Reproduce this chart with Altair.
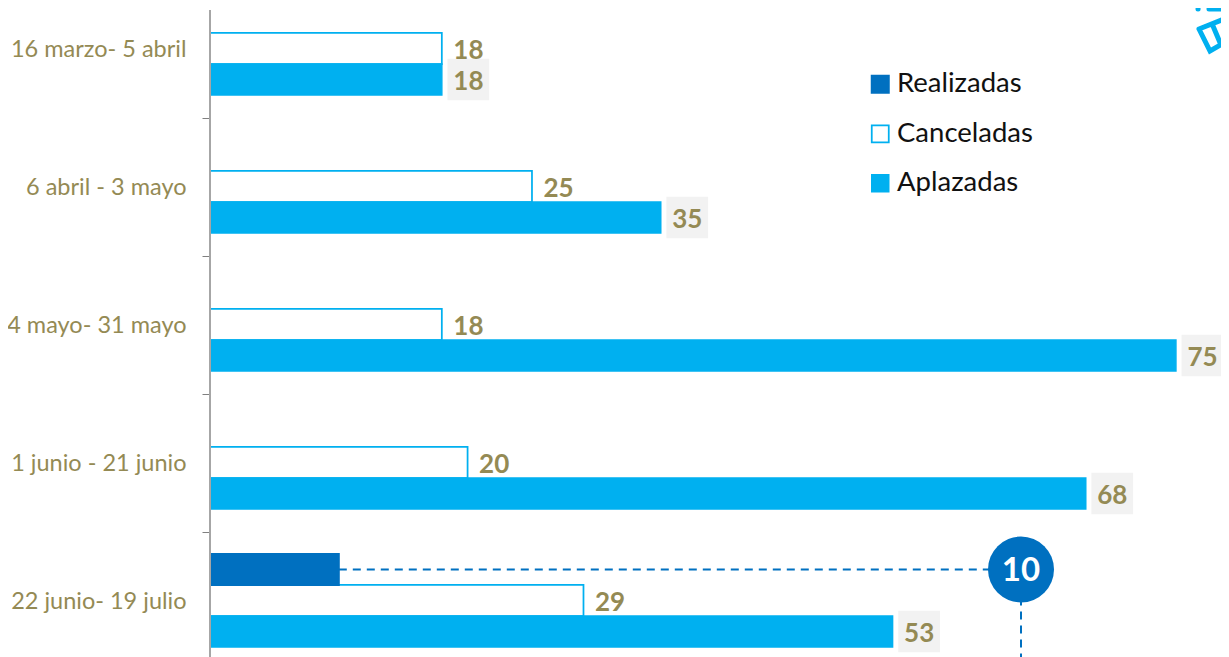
import altair as alt
import pandas as pd

periods = ["16 marzo- 5 abril", "6 abril - 3 mayo", "4 mayo- 31 mayo", "1 junio - 21 junio", "22 junio- 19 julio"]
canceladas = [18, 25, 18, 20, 29]
aplazadas = [18, 35, 75, 68, 53]
realizadas_period = "22 junio- 19 julio"
realizadas_value = 10
series = ["Realizadas", "Canceladas", "Aplazadas"]
fills = ["#0070C0", "#FFFFFF", "#00B0F0"]
strokes = ["#0070C0", "#00B0F0", "#00B0F0"]
stroke_widths = [2, 1.5, 0]

rows = [{"p": p, "s": "Canceladas", "v": v} for p, v in zip(periods, canceladas)]
rows += [{"p": p, "s": "Aplazadas", "v": v} for p, v in zip(periods, aplazadas)]
rows += [{"p": realizadas_period, "s": "Realizadas", "v": realizadas_value}]
df = pd.DataFrame(rows)
df_text = df[df.s != "Realizadas"]
df_apl = df[df.s == "Aplazadas"]
df_real = df[df.s == "Realizadas"]

FONT = "Lato"
TXT = "#948A54"
CALLOUT_X = 811
ICON = "M0,0L30,-12M0,0L11,22L30,11M14,-3L22,16M-1,-20L-0.9,-20M10,-20L30,-20"

y = alt.Y("p:N", sort=periods, title=None,
          scale=alt.Scale(domain=periods, range=[-28.5, 661.5], paddingInner=0.326, paddingOuter=0.163),
          axis=alt.Axis(domain=False, bandPosition=1, tickOffset=22.5, labelOffset=-21.5, tickSize=8,
                        tickColor="#808080", tickWidth=1,
                        labelFont=FONT, labelFontSize=23.5, labelColor=TXT, labelPadding=16, labelLimit=220,
                        labelOverlap=False, grid=False))
yo = alt.YOffset("s:N", scale=alt.Scale(domain=series, paddingInner=0, paddingOuter=0))
x = alt.X("v:Q", title=None, axis=None, stack=None, scale=alt.Scale(domain=[0, 78.5], nice=False, zero=True))

bars = alt.Chart(df).mark_bar().encode(
    x=x, y=y, yOffset=yo,
    fill=alt.Fill("s:N", scale=alt.Scale(domain=series, range=fills),
                  legend=alt.Legend(title=None, orient="none", legendX=656.5, legendY=62.5, symbolType="square",
                                    symbolSize=289, symbolStrokeWidth=1.5, symbolOpacity=1, labelFont=FONT,
                                    labelFontSize=27.5, labelColor="#111111", labelOffset=3, rowPadding=20.5)),
    stroke=alt.Stroke("s:N", scale=alt.Scale(domain=series, range=strokes), legend=None),
    strokeWidth=alt.StrokeWidth("s:N", scale=alt.Scale(domain=series, range=stroke_widths), legend=None),
)

boxes = alt.Chart(df_apl).mark_square(size=1740, color="#F2F2F2", opacity=1, xOffset=26.5).encode(
    x=x, y=y, yOffset=yo)
labels = alt.Chart(df_text).mark_text(align="left", baseline="middle", dx=11.5, dy=2.5, font=FONT, fontSize=26,
                                      fontWeight="bold", color=TXT).encode(
    x=x, y=y, yOffset=yo, text="v:Q")

h_line = alt.Chart(df_real).mark_rule(color="#0070C0", strokeWidth=2, strokeDash=[8, 6]).encode(
    x=x, x2=alt.value(CALLOUT_X), y=y, yOffset=yo)
v_line = alt.Chart(df_real).mark_rule(color="#0070C0", strokeWidth=2, strokeDash=[8, 6]).encode(
    x=alt.value(CALLOUT_X), y=y, yOffset=yo, y2=alt.value(649))
circle = alt.Chart(df_real).mark_circle(size=4356, color="#0070C0", opacity=1).encode(
    x=alt.value(CALLOUT_X), y=y, yOffset=yo)
circle_text = alt.Chart(df_real).mark_text(font=FONT, fontSize=33, fontWeight="bold", color="#FFFFFF",
                                           baseline="middle", dy=2).encode(
    x=alt.value(CALLOUT_X), y=y, yOffset=yo, text="v:Q")

axis_line = alt.Chart(df_real).mark_rule(color="#A6A6A6", strokeWidth=2).encode(
    x=alt.value(0), y=alt.value(2), y2=alt.value(649))

icon = alt.Chart(df_real).mark_point(shape=ICON, size=4, filled=False, stroke="#00B0F0", strokeWidth=5,
                                     opacity=1, strokeCap="round").encode(
    x=alt.value(989), y=alt.value(21))

chart = alt.layer(boxes, bars, axis_line, h_line, v_line, circle, circle_text, labels, icon).properties(
    width=1011, height=649,
    autosize=alt.AutoSizeParams(type="none"),
    padding={"left": 202, "top": 0, "right": 0, "bottom": 0},
).configure_view(stroke=None).resolve_scale(fill="shared", stroke="shared")

chart.save("out.html", embed_options={"renderer": "svg", "actions": False})
